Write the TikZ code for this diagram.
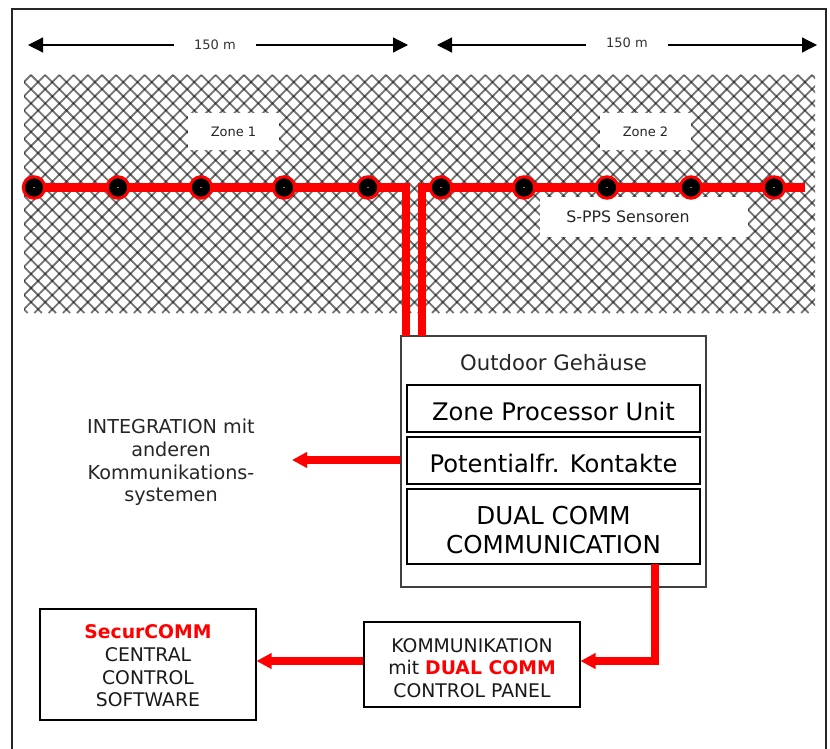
\documentclass[tikz,border=0pt]{standalone}
\usepackage{fontspec}
\setmainfont{DejaVu Sans}
\usetikzlibrary{arrows.meta}
\definecolor{alarmred}{RGB}{255,0,0}
\definecolor{boxgray}{RGB}{64,64,64}
\tikzset{
  dimarrow/.style={draw=black, line width=1.2pt, -{Triangle[length=15pt,width=15pt]}},
  dimlabel/.style={font=\fontsize{13}{15}\selectfont, text=black!80, minimum width=82pt, inner sep=0pt},
  zonelabel/.style={fill=white, inner sep=0pt, font=\fontsize{13}{15}\selectfont, text=black!85},
  sensor/.style={circle, draw=alarmred, line width=3pt, fill=black, minimum size=21.5pt, inner sep=0pt},
  cable/.style={draw=alarmred, line width=8.5pt},
  redarrow/.style={draw=alarmred, line width=8pt, -{Triangle[length=15pt,width=15pt]}},
  unitbox/.style={draw=black, line width=1.6pt, fill=white, minimum width=293pt, align=center, inner sep=0pt},
  panelbox/.style={draw=black, line width=1.4pt, fill=white, align=center, inner sep=0pt, font=\fontsize{18.8}{22.6}\selectfont, text=black!90}
}
\begin{document}
\begin{tikzpicture}[x=1pt, y=-1pt]
        \useasboundingbox (0,0) rectangle (830,749);
        \fill[white] (0,0) rectangle (830,749);

        % Rahmen
        \draw[line width=2pt, black!85] (12,749) -- (12,9.5) -- (826,9.5) -- (826,749);

        % Gitter
        \begin{scope}
          \clip (24,75) rectangle (815,313);
          \foreach \k in {-20,...,75} {
            \draw[black, opacity=.55, line width=1.8pt] (31+\k*14.2,75) -- ++(238,238);
            \draw[black, opacity=.55, line width=1.8pt] (31+\k*14.2,75) -- ++(-238,238);
          }
        \end{scope}

        % Massangaben
        \node[dimlabel] (dimleft) at (215,45) {150 m};
        \node[dimlabel] (dimright) at (627,43) {150 m};
        \coordinate (dimleftA) at (28,45);
        \coordinate (dimleftB) at (408,45);
        \coordinate (dimrightA) at (437,45);
        \coordinate (dimrightB) at (817,45);
        \draw[dimarrow] (dimleft) -- (dimleftA);
        \draw[dimarrow] (dimleft) -- (dimleftB);
        \draw[dimarrow] (dimright.west |- dimrightA) -- (dimrightA);
        \draw[dimarrow] (dimright.east |- dimrightA) -- (dimrightB);

        % Beschriftung der Zonen
        \node[zonelabel, minimum width=91pt, minimum height=37pt] (zoneone) at (233.5,131.5) {Zone 1};
        \node[zonelabel, minimum width=91pt, minimum height=37pt] (zonetwo) at (645.5,131.5) {Zone 2};
        \node[zonelabel, minimum width=208pt, minimum height=40pt, font=\fontsize{15.8}{18}\selectfont] (sppslabel) at (644,217) {\hspace{-32pt}S-PPS Sensoren};

        % Gehaeuse
        \node[draw=boxgray, line width=2pt, fill=white, minimum width=305pt, minimum height=251pt, inner sep=0pt] (outdoor) at (553.5,461.5) {};
        \node[font=\fontsize{21.2}{25}\selectfont, text=black!85, inner sep=0pt] (outdoortitle) at (553.5,362.5) {Outdoor Gehäuse};
        \node[unitbox, minimum height=47pt, font=\fontsize{24.2}{28}\selectfont, text height=25pt, text depth=1pt] (zpu) at (553.5,408.5) {Zone Processor Unit};
        \node[unitbox, minimum height=47pt, font=\fontsize{24.2}{28}\selectfont, text height=25pt, text depth=1pt] (contacts) at (553.5,460.5) {Potentialfr. Kontakte};
        \node[unitbox, minimum height=75pt, font=\fontsize{24.6}{29.5}\selectfont] (dualcomm) at (553.5,526.5) {\rule{0pt}{25pt}DUAL COMM\\COMMUNICATION};

        % Kabel und Sensoren
        \coordinate (cableleft) at (406,187.5);
        \coordinate (cableright) at (422,187.5);
        \coordinate (cableend) at (805,187.5);
        \coordinate (entryleft) at (406,336);
        \coordinate (entryright) at (422,336);
        \draw[cable, line width=8pt] (entryleft) -- ([yshift=4pt]cableleft);
        \draw[cable, line width=8pt] (entryright) -- ([yshift=4pt]cableright);
        \draw[cable] (34,187.5) -- ([xshift=4pt]cableleft);
        \draw[cable] ([xshift=-4pt]cableright) -- (cableend);
        \foreach \i/\x in {1/34,2/118,3/201,4/284,5/368,6/441,7/524,8/607,9/691,10/774} {
          \node[sensor] (sensor\i) at (\x,187.5) {};
          \fill[white] (sensor\i) circle (0.6);
        }

        % Integration
        \node[align=center, inner sep=0pt, font=\fontsize{19.2}{22.7}\selectfont, text=black!85] (integration) at (171,462.5) {INTEGRATION mit\\anderen\\Kommunikations-\\systemen};
        \coordinate (integrationend) at (292,460);
        \draw[redarrow] (outdoor.west |- integrationend) -- (integrationend);

        % Unten
        \node[panelbox, minimum width=216pt, minimum height=85pt] (panel) at (472,664.5) {\rule{0pt}{21pt}KOMMUNIKATION\\mit {\bfseries\color{alarmred}DUAL COMM}\\CONTROL PANEL};
        \node[panelbox, minimum width=216pt, minimum height=111pt] (software) at (148,664.5) {\rule{0pt}{17pt}{\bfseries\color{alarmred}SecurCOMM}\\CENTRAL\\CONTROL\\SOFTWARE};
        \coordinate (dualout) at (655,564);
        \coordinate (panelin) at (580.5,661);
        \coordinate (softwarein) at (256.5,661);
        \draw[redarrow] (dualout) |- (panelin);
        \draw[redarrow] (panel.west |- panelin) -- (softwarein);
\end{tikzpicture}
\end{document}
